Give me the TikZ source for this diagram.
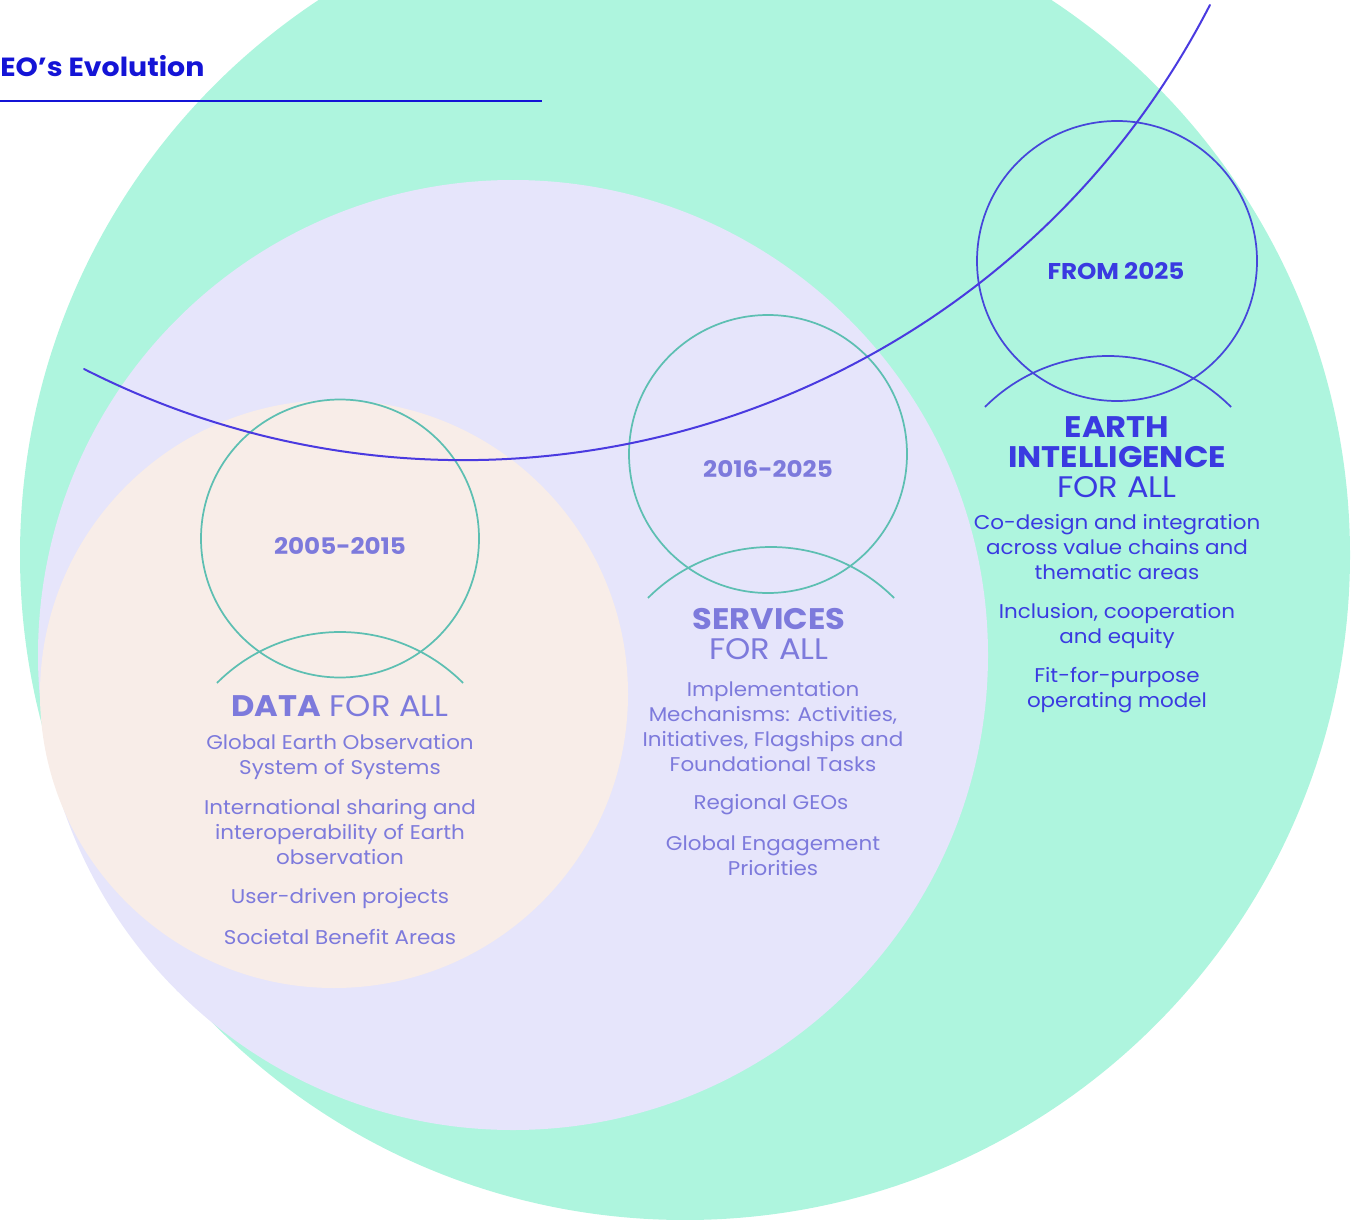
\documentclass[tikz,border=0pt]{standalone}
\usepackage{fontspec}
\setmainfont{Poppins}[FakeStretch=1.08]
\definecolor{greenbg}{HTML}{AEF5DE}
\definecolor{lavbg}{HTML}{E6E5FB}
\definecolor{peachbg}{HTML}{F8EDE8}
\definecolor{txtpurple}{HTML}{7D7ADC}
\definecolor{txtblue}{HTML}{3A3AE1}
\definecolor{titleblue}{HTML}{1414D6}
\definecolor{tealline}{HTML}{5DBFB2}
\definecolor{blueline}{HTML}{4646DA}
\definecolor{curveblue}{HTML}{4A3AE0}
\begin{document}
\begin{tikzpicture}[x=0.75pt,y=-0.75pt,
  ring/.style={line width=1.3pt},
  body/.style={align=center, inner sep=0pt, font=\fontsize{14.9}{18.75}\selectfont},
  head/.style={align=center, inner sep=0pt, font=\fontsize{22.3}{22.5}\selectfont},
  year/.style={inner sep=0pt, font=\fontsize{17.1}{20}\selectfont\bfseries}]
\useasboundingbox (0,0) rectangle (1360,1220);
\begin{scope}
  \clip (0,0) rectangle (1360,1220);
  \fill[greenbg] (685,555) circle[radius=665];
  \fill[lavbg] (513,655) circle[radius=475];
  \fill[peachbg] (334,694) circle[radius=294];
\end{scope}
% title
\node[anchor=base west, inner sep=0pt, text=titleblue, font=\fontsize{19.7}{22}\selectfont\bfseries] (title) at (0,77) {EO’s Evolution};
\coordinate (tl0) at (0,101);
\coordinate (tl1) at (542,101);
\draw[titleblue, line width=2pt] (tl0) -- (tl1);
% small circles and arcs
\draw[ring, tealline] (340,538.5) circle[radius=139];
\draw[ring, tealline] ([shift={(-135:174)}]340,806) arc[start angle=-135, end angle=-45, radius=174];
\draw[ring, tealline] (768,454) circle[radius=139];
\draw[ring, tealline] ([shift={(-135:174)}]771,721) arc[start angle=-135, end angle=-45, radius=174];
\draw[ring, blueline] (1117,261) circle[radius=140];
\draw[ring, blueline] ([shift={(-135:174)}]1108,530) arc[start angle=-135, end angle=-45, radius=174];
% long curve: arc of a large circle
\coordinate (cc) at (464,-379);
\draw[curveblue, line width=1.5pt, line cap=round] ([shift={(116.93:839)}]cc) arc[start angle=116.93, end angle=27.24, radius=839];
% year labels
\node[year, text=txtpurple] (y1) at (340,546) {2005-2015};
\node[year, text=txtpurple] (y2) at (768,469) {2016-2025};
\node[year, text=txtblue] (y3) at (1116,271) {FROM 2025};
% DATA FOR ALL
\node[head, text=txtpurple] (h1) at (340,706) {\textbf{DATA} FOR ALL};
\node[body, text=txtpurple] (d1) at (340,757) {Global Earth Observation\\System of Systems};
\node[body, text=txtpurple] (d2) at (340,832.5) {International sharing and\\interoperability of Earth\\observation};
\node[body, text=txtpurple] (d3) at (340,898.5) {User-driven projects};
\node[body, text=txtpurple] (d4) at (340,936.5) {Societal Benefit Areas};
% SERVICES FOR ALL
\node[head, text=txtpurple] (h2) at (769,634.5) {\textbf{SERVICES}\\FOR ALL};
\node[body, text=txtpurple] (s1) at (773,726.5) {Implementation\\Mechanisms: Activities,\\Initiatives, Flagships and\\Foundational Tasks};
\node[body, text=txtpurple] (s2) at (771,804.5) {Regional GEOs};
\node[body, text=txtpurple] (s3) at (773,855.5) {Global Engagement\\Priorities};
% EARTH INTELLIGENCE FOR ALL
\node[head, text=txtblue] (h3) at (1117,457) {\textbf{EARTH}\\\textbf{INTELLIGENCE}\\FOR ALL};
\node[body, text=txtblue] (e1) at (1117,547) {Co-design and integration\\across value chains and\\thematic areas};
\node[body, text=txtblue] (e2) at (1117,626.5) {Inclusion, cooperation\\and equity};
\node[body, text=txtblue] (e3) at (1117,690.5) {Fit-for-purpose\\operating model};
\end{tikzpicture}
\end{document}
